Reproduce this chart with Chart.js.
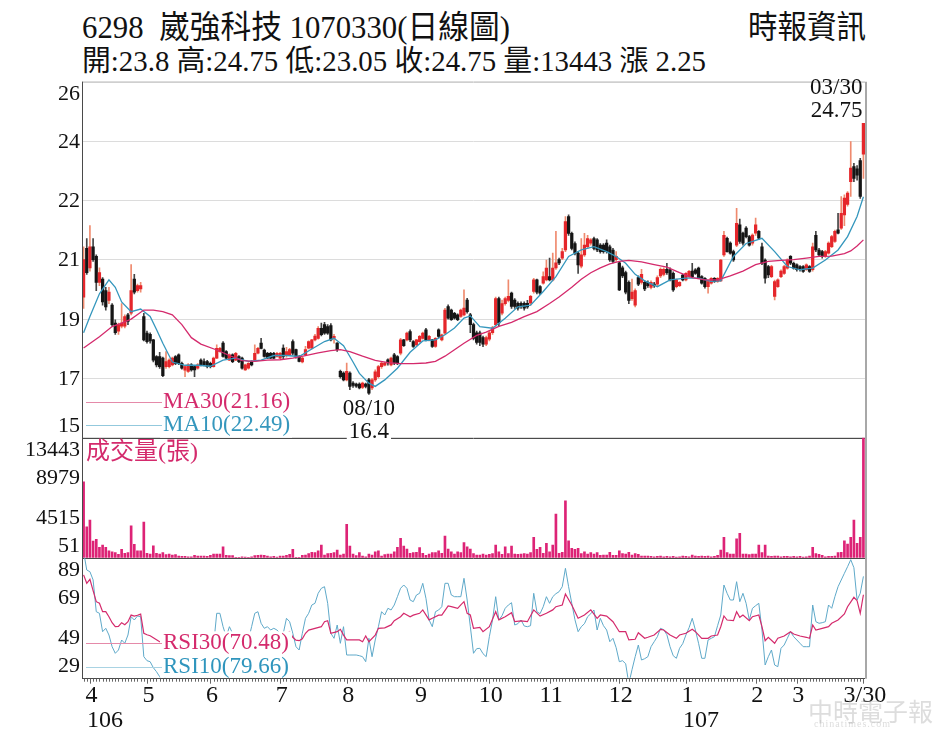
<!DOCTYPE html>
<html lang="zh-Hant">
<head>
<meta charset="UTF-8">
<title>6298 崴強科技 日線圖</title>
<script src="https://cdn.jsdelivr.net/npm/chart.js"></script>
<style>
  body { margin: 0; background: #fff; }
  #wrap {
    position: relative; width: 945px; height: 756px; overflow: hidden; background: #fff;
    font-family: "Liberation Serif", "Noto Sans CJK TC", serif; color: #111;
  }
  .hd { position: absolute; white-space: nowrap; line-height: 1; transform-origin: 0 0; }
  canvas { position: absolute; left: 0; }
  .wm { position: absolute; color: rgba(170,170,170,0.4); white-space: nowrap; }
</style>
</head>
<body>
<div id="wrap">
  <div class="hd" id="t1" style="left:82px; top:11px; font-size:32px;">6298&nbsp; 崴強科技 1070330(日線圖)</div>
  <div class="hd" id="t2" style="left:748px; top:11px; font-size:32px;">時報資訊</div>
  <div class="hd" id="t3" style="left:82px; top:47px; font-size:29px;">開:23.8 高:24.75 低:23.05 收:24.75 量:13443 漲 2.25</div>
  <canvas id="priceChart" width="945" height="390" style="top:60px"></canvas>
  <canvas id="volChart" width="945" height="140" style="top:430px"></canvas>
  <canvas id="rsiChart" width="945" height="206" style="top:550px"></canvas>
  <div class="wm" style="left:808px; top:692px; font-size:25px;">中時電子報</div>
  <div class="wm" style="left:814px; top:718px; font-size:10px; letter-spacing:1px;">chinatimes.com</div>
</div>

<script>
// daily candles, 2017-03-30 .. 2018-03-30 (247 trading days)
const open = [
  19.4, 20.9, 20.3, 20.95, 20.65, 19.85, 19.95, 19.6, 19.3, 19.15,
  18.6, 18.35, 18.5, 18.5, 18.85, 18.9, 19.95, 19.6, 19.65, 18.8,
  18.29, 18.25, 18.08, 17.57, 17.57, 17.52, 17.26, 17.26, 17.31, 17.57,
  17.62, 17.36, 17.15, 17.11, 17.31, 17.26, 17.21, 17.46, 17.41, 17.41,
  17.36, 17.26, 17.52, 17.72, 17.98, 17.72, 17.46, 17.62, 17.46, 17.57,
  17.52, 17.16, 17.21, 17.41, 17.46, 17.67, 17.98, 17.77, 17.67, 17.67,
  17.67, 17.57, 17.52, 17.83, 17.6, 17.62, 18.03, 17.78, 17.57, 17.4,
  17.62, 17.83, 17.83, 18.08, 18.13, 18.44, 18.55, 18.49, 18.52, 18.13,
  17.98, 17.11, 17.06, 16.85, 17.06, 16.75, 16.72, 16.72, 16.62, 16.72,
  16.85, 16.6, 16.85, 16.95, 17.26, 17.3, 17.47, 17.31, 17.62, 17.57,
  17.67, 18.08, 18.08, 18.34, 18.03, 17.93, 18.03, 18.13, 18.39, 18.08,
  18.08, 17.88, 18.39, 18.08, 18.29, 19.11, 19.0, 18.9, 18.85, 18.8,
  18.85, 19.31, 18.85, 18.55, 18.3, 18.3, 18.15, 17.95, 18.1, 18.3,
  18.55, 19.35, 18.9, 19.2, 19.3, 19.52, 19.31, 19.21, 19.21, 19.21,
  19.21, 19.21, 19.57, 19.93, 19.72, 19.83, 19.93, 20.03, 19.93, 20.3,
  20.55, 20.6, 20.85, 21.88, 21.36, 21.05, 20.75, 20.35, 20.7, 20.95,
  21.06, 21.2, 21.16, 21.0, 21.0, 21.06, 20.95, 20.85, 20.55, 20.45,
  20.3, 20.15, 19.85, 19.35, 19.15, 20.0, 19.85, 19.85, 19.85, 19.7,
  19.8, 19.8, 20.05, 20.1, 20.25, 20.24, 20.13, 19.72, 19.75, 20.08,
  19.93, 20.03, 20.2, 20.24, 20.29, 20.03, 19.98, 19.72, 19.83, 19.98,
  19.88, 19.9, 20.7, 21.21, 21.06, 20.8, 21.0, 21.62, 21.37, 21.52,
  21.26, 21.06, 21.37, 21.42, 20.95, 20.54, 20.34, 20.03, 19.42, 19.72,
  20.03, 20.13, 20.29, 20.65, 20.44, 20.39, 20.34, 20.34, 20.24, 20.34,
  20.24, 21.3, 20.85, 20.8, 20.65, 20.75, 20.95, 21.11, 21.47, 21.52,
  21.93, 22.25, 22.95, 23.42, 23.35, 23.6, 23.8
];
const high = [
  20.95, 21.2, 21.6, 21.2, 20.7, 20.3, 20.0, 19.7, 19.7, 19.2,
  18.7, 18.6, 19.2, 18.85, 18.9, 20.4, 20.1, 19.8, 19.85, 18.9,
  18.35, 18.3, 18.1, 17.6, 17.7, 17.55, 17.72, 17.5, 17.55, 17.6,
  17.65, 17.4, 17.3, 17.35, 17.35, 17.3, 17.35, 17.5, 17.5, 17.45,
  17.4, 17.55, 17.93, 17.85, 18.03, 17.75, 17.65, 17.65, 17.7, 17.6,
  17.55, 17.34, 17.38, 17.44, 17.93, 17.85, 18.13, 17.8, 17.7, 17.7,
  17.7, 17.7, 17.7, 17.93, 17.85, 17.82, 18.08, 17.8, 17.6, 17.55,
  17.88, 18.05, 18.1, 18.25, 18.49, 18.6, 18.62, 18.55, 18.58, 18.25,
  18.0, 17.15, 17.1, 17.37, 17.1, 16.8, 16.75, 16.76, 16.78, 16.75,
  16.9, 16.9, 17.16, 17.3, 17.4, 17.4, 17.5, 17.55, 17.67, 17.6,
  18.13, 18.1, 18.32, 18.39, 18.06, 18.1, 18.22, 18.32, 18.44, 18.22,
  18.1, 18.15, 18.42, 18.26, 19.05, 19.16, 19.03, 18.93, 18.88, 19.03,
  19.62, 19.36, 18.9, 18.6, 18.35, 18.35, 18.2, 18.2, 18.35, 18.5,
  19.4, 19.4, 19.31, 19.4, 19.93, 19.55, 19.35, 19.25, 19.25, 19.25,
  19.3, 19.45, 19.98, 19.95, 19.75, 20.18, 20.54, 20.6, 20.75, 21.42,
  20.6, 20.9, 21.88, 21.93, 21.4, 21.1, 20.8, 21.2, 21.36, 21.3,
  21.2, 21.25, 21.2, 21.05, 21.05, 21.16, 21.0, 20.9, 20.8, 20.5,
  20.35, 20.2, 19.9, 19.95, 19.65, 20.05, 20.25, 19.9, 19.9, 19.9,
  19.85, 20.05, 20.3, 20.3, 20.44, 20.3, 20.18, 19.95, 19.88, 20.1,
  20.15, 20.22, 20.44, 20.28, 20.32, 20.06, 20.0, 19.9, 20.0, 20.0,
  20.0, 20.56, 21.42, 21.25, 21.1, 20.85, 22.13, 21.8, 21.4, 21.57,
  21.3, 21.35, 21.83, 21.45, 21.06, 20.58, 20.38, 20.38, 19.92, 19.96,
  20.24, 20.38, 20.58, 20.68, 20.48, 20.42, 20.37, 20.37, 20.42, 20.37,
  21.06, 21.42, 20.9, 20.84, 20.84, 21.1, 21.3, 21.46, 21.98, 22.49,
  22.55, 22.65, 24.19, 23.52, 23.45, 23.67, 24.75
];
const low = [
  19.05, 20.1, 20.2, 20.5, 19.6, 19.75, 19.15, 19.0, 19.2, 18.5,
  18.25, 18.25, 18.45, 18.45, 18.55, 18.85, 19.5, 19.55, 19.55, 18.05,
  17.98, 17.98, 17.4, 17.25, 17.2, 16.95, 17.2, 17.22, 17.28, 17.32,
  17.32, 17.18, 16.95, 17.08, 17.12, 16.95, 17.18, 17.28, 17.28, 17.22,
  17.22, 17.24, 17.5, 17.7, 17.55, 17.5, 17.44, 17.38, 17.44, 17.38,
  17.18, 17.14, 17.18, 17.28, 17.44, 17.65, 17.8, 17.55, 17.5, 17.5,
  17.5, 17.55, 17.5, 17.47, 17.55, 17.6, 17.62, 17.52, 17.4, 17.37,
  17.6, 17.8, 17.8, 18.05, 18.1, 18.2, 18.25, 18.25, 18.05, 17.98,
  17.73, 16.9, 16.82, 16.82, 16.55, 16.62, 16.62, 16.57, 16.58, 16.6,
  16.4, 16.55, 16.8, 16.9, 17.2, 17.28, 17.3, 17.28, 17.32, 17.32,
  17.62, 17.88, 18.05, 18.03, 17.85, 17.9, 18.0, 18.1, 18.05, 18.05,
  17.85, 17.85, 18.15, 18.05, 18.25, 18.72, 18.68, 18.72, 18.67, 18.77,
  18.82, 18.9, 18.3, 18.08, 17.95, 17.9, 17.87, 17.9, 18.05, 18.25,
  18.5, 18.5, 18.85, 19.15, 19.25, 19.05, 19.05, 19.0, 19.05, 19.0,
  19.05, 19.15, 19.52, 19.5, 19.47, 19.8, 19.9, 19.9, 19.9, 20.25,
  20.4, 20.55, 20.8, 21.3, 20.85, 20.7, 20.13, 20.3, 20.65, 20.9,
  21.0, 20.85, 20.8, 20.75, 20.75, 20.75, 20.5, 20.45, 20.5, 19.6,
  20.0, 19.5, 19.2, 19.3, 19.1, 19.75, 19.8, 19.6, 19.7, 19.65,
  19.7, 19.75, 20.0, 20.05, 20.1, 19.9, 19.57, 19.68, 19.72, 19.9,
  19.9, 20.0, 20.0, 20.1, 19.98, 19.8, 19.67, 19.52, 19.8, 19.85,
  19.85, 19.88, 20.65, 20.78, 20.72, 20.5, 20.95, 21.05, 21.0, 21.22,
  20.97, 21.0, 21.3, 21.18, 20.4, 19.83, 20.0, 20.0, 19.31, 19.7,
  20.0, 20.1, 20.26, 20.4, 20.26, 20.2, 20.2, 20.16, 20.22, 20.16,
  20.2, 20.8, 20.66, 20.6, 20.62, 20.72, 20.92, 21.08, 21.34, 21.48,
  21.6, 22.2, 22.5, 22.95, 23.0, 22.44, 23.05
];
const close = [
  20.55, 20.15, 20.95, 20.55, 19.85, 20.15, 19.25, 19.1, 19.55, 18.55,
  18.3, 18.55, 18.6, 18.8, 18.65, 19.6, 19.55, 19.75, 19.75, 18.08,
  18.03, 18.05, 17.46, 17.31, 17.26, 16.98, 17.41, 17.46, 17.52, 17.36,
  17.36, 17.21, 17.26, 17.31, 17.16, 17.16, 17.31, 17.31, 17.31, 17.26,
  17.26, 17.52, 17.82, 17.82, 17.57, 17.52, 17.62, 17.41, 17.67, 17.41,
  17.21, 17.31, 17.36, 17.31, 17.67, 17.82, 17.82, 17.57, 17.52, 17.52,
  17.52, 17.67, 17.67, 17.57, 17.72, 17.78, 17.67, 17.57, 17.42, 17.52,
  17.78, 18.03, 18.08, 18.2, 18.44, 18.24, 18.29, 18.29, 18.08, 18.19,
  17.78, 16.95, 16.85, 17.11, 16.65, 16.68, 16.66, 16.6, 16.75, 16.65,
  16.44, 16.85, 17.1, 17.26, 17.37, 17.37, 17.37, 17.52, 17.37, 17.37,
  18.08, 17.9, 18.29, 18.08, 17.88, 18.08, 18.19, 18.29, 18.08, 18.19,
  17.88, 18.13, 18.19, 18.24, 19.0, 18.75, 18.7, 18.75, 18.7, 19.0,
  19.06, 18.95, 18.55, 18.13, 18.0, 18.0, 17.95, 18.15, 18.3, 18.45,
  19.35, 18.6, 19.2, 19.35, 19.42, 19.11, 19.11, 19.06, 19.11, 19.06,
  19.1, 19.42, 19.93, 19.55, 19.52, 20.03, 20.29, 19.93, 20.29, 20.45,
  20.45, 20.8, 21.72, 21.36, 20.9, 20.75, 20.39, 20.7, 21.0, 21.2,
  21.16, 20.9, 20.85, 20.8, 20.8, 20.8, 20.54, 20.5, 20.65, 19.62,
  20.05, 19.55, 19.3, 19.55, 19.6, 19.8, 20.1, 19.65, 19.75, 19.85,
  19.75, 20.0, 20.25, 20.25, 20.15, 19.93, 19.62, 19.93, 19.85, 19.93,
  20.13, 20.19, 20.03, 20.13, 20.0, 19.83, 19.72, 19.88, 19.98, 19.88,
  19.98, 20.54, 21.3, 20.8, 20.75, 20.54, 21.67, 21.11, 21.06, 21.26,
  21.0, 21.31, 21.62, 21.21, 20.44, 19.98, 20.08, 20.34, 19.88, 19.93,
  20.2, 20.34, 20.54, 20.44, 20.29, 20.24, 20.24, 20.19, 20.39, 20.19,
  20.95, 20.85, 20.7, 20.65, 20.8, 21.06, 21.26, 21.42, 21.37, 21.98,
  22.45, 22.6, 23.37, 23.05, 23.15, 22.5, 24.75
];
// volume, lots (張)
const volume = [
  8500, 3470, 4220, 1870, 2050, 1160, 1420, 1160, 780, 670,
  560, 370, 930, 485, 560, 3580, 1490, 780, 780, 4000,
  490, 410, 1340, 480, 410, 560, 340, 410, 300, 340,
  190, 150, 150, 110, 110, 260, 190, 190, 190, 150,
  260, 410, 410, 410, 1230, 260, 230, 230, 40, 40,
  110, 80, 40, 110, 230, 260, 300, 260, 190, 110,
  150, 80, 190, 190, 260, 370, 930, 40, 40, 260,
  300, 450, 600, 560, 780, 1420, 300, 450, 490, 560,
  860, 300, 410, 3740, 1300, 410, 230, 560, 190, 110,
  410, 300, 670, 780, 190, 340, 410, 410, 670, 1160,
  2160, 1300, 970, 490, 560, 600, 1120, 490, 260, 410,
  560, 560, 780, 490, 2420, 970, 670, 410, 670, 560,
  1680, 1230, 970, 450, 300, 300, 410, 300, 370, 450,
  1420, 670, 370, 1230, 450, 1300, 410, 370, 410, 450,
  410, 560, 2280, 930, 1160, 480, 1600, 670, 1420, 4890,
  480, 600, 6380, 1900, 1040, 930, 1040, 450, 670, 410,
  560, 410, 560, 260, 300, 300, 600, 260, 260, 780,
  450, 410, 600, 300, 450, 370, 190, 190, 190, 150,
  110, 150, 190, 110, 150, 110, 150, 80, 110, 190,
  150, 110, 300, 190, 150, 190, 150, 190, 110, 150,
  260, 860, 2280, 560, 410, 410, 2100, 2730, 410, 410,
  340, 410, 410, 1420, 560, 1420, 190, 150, 190, 190,
  110, 150, 150, 110, 150, 110, 150, 80, 110, 190,
  1160, 450, 370, 260, 110, 150, 150, 190, 560, 600,
  1900, 1530, 2280, 4220, 1600, 2280, 13443
];
// [day index, value]
const ma30 = [[0,17.83],[5,18.18],[9,18.49],[12,18.6],[15,18.72],[19,19.0],[22,19.0],[25,18.95],[28,18.85],[31,18.55],[34,18.15],[37,17.95],[42,17.77],[46,17.6],[50,17.44],[54,17.42],[58,17.46],[62,17.47],[66,17.52],[70,17.6],[74,17.68],[78,17.75],[81,17.78],[84,17.72],[88,17.58],[92,17.45],[96,17.38],[100,17.35],[104,17.35],[108,17.37],[111,17.42],[114,17.58],[117,17.78],[120,17.98],[124,18.22],[127,18.32],[131,18.5],[135,18.62],[139,18.8],[143,18.95],[147,19.2],[150,19.4],[154,19.7],[157,19.95],[160,20.15],[163,20.3],[166,20.42],[169,20.5],[172,20.53],[176,20.48],[180,20.4],[184,20.32],[188,20.15],[192,20.0],[196,19.93],[200,19.93],[204,20.05],[208,20.2],[212,20.4],[216,20.5],[220,20.53],[224,20.55],[228,20.6],[232,20.65],[236,20.66],[240,20.74],[242,20.82],[244,20.97],[246,21.16]];
const ma10 = [[0,18.3],[2,18.8],[5,19.5],[8,19.93],[10,19.7],[12,19.25],[15,18.95],[18,19.03],[21,18.8],[23,18.4],[25,17.98],[28,17.4],[32,17.3],[36,17.3],[40,17.27],[44,17.46],[48,17.52],[52,17.42],[56,17.46],[60,17.6],[64,17.6],[68,17.57],[72,17.8],[76,18.03],[79,18.13],[82,17.9],[85,17.4],[87,17.05],[90,16.75],[92,16.65],[95,16.85],[99,17.21],[103,17.7],[107,18.05],[111,18.08],[114,18.24],[117,18.45],[120,18.75],[122,18.82],[125,18.49],[129,18.44],[133,18.75],[137,19.1],[141,19.15],[145,19.57],[149,20.03],[153,20.65],[157,20.85],[161,20.95],[165,20.8],[168,20.65],[171,20.44],[174,20.1],[177,19.9],[181,19.72],[185,19.93],[190,19.98],[194,19.98],[198,19.88],[201,19.9],[205,20.65],[209,21.05],[214,21.21],[218,20.8],[222,20.34],[226,20.24],[230,20.29],[234,20.54],[238,20.85],[241,21.26],[244,21.88],[246,22.49]];
const rsi30 = [[0,80.4],[1,76.2],[2,78.2],[3,72.5],[4,67],[5,66.2],[6,62],[7,62],[8,59.5],[9,56.5],[10,54.5],[11,54.6],[12,56.5],[13,55.5],[14,57],[15,60.3],[16,59.8],[17,60.2],[18,60.8],[19,51.2],[20,50.5],[21,50],[22,49],[23,48],[24,47],[26,46],[28,46.5],[30,45.5],[32,45],[34,44.5],[36,45],[38,44.5],[40,45],[42,47],[44,48],[46,47],[48,47.5],[50,46],[52,46.5],[54,48],[56,48.5],[58,48],[60,48.5],[62,48],[64,51],[65,52],[66,49.2],[67,47.8],[68,47.5],[69,48.5],[70,51.2],[71,52.8],[73,53.7],[75,54.5],[76,57],[77,57.5],[78,51.2],[80,52],[81,53.2],[82,50.3],[83,47.9],[85,47.9],[87,47.9],[88,47],[89,49.9],[90,47],[92,50.3],[93,53.7],[95,53.9],[97,55.4],[98,57.5],[100,59.5],[101,61.2],[103,59.5],[104,60.3],[106,61.2],[107,62.9],[109,57.9],[110,58.7],[112,60.3],[113,60.3],[115,64.9],[116,64.5],[118,63.7],[119,65.4],[120,67],[121,61.2],[122,60.35],[123,53.7],[125,54.2],[126,52],[128,54.5],[130,62],[131,57.9],[133,59.5],[135,61.5],[136,57],[138,57.4],[140,57],[142,62.9],[144,59.8],[146,61.2],[148,62.9],[149,64.5],[151,65.35],[152,70.85],[154,65.35],[156,58.7],[158,60.35],[160,62.9],[162,58.7],[163,60.35],[165,59.8],[167,57],[169,52],[171,52],[172,47.9],[174,48.2],[175,51.5],[177,48.7],[178,49.2],[180,50.35],[182,53.2],[183,52.85],[185,50.35],[187,48.7],[188,50.35],[190,51.2],[192,53.2],[193,52],[195,48.7],[197,48.7],[198,49.85],[200,50.35],[201,54.5],[202,59.85],[203,57.85],[205,57.5],[206,62],[207,59.2],[208,60.35],[210,57.5],[211,59.5],[213,60.35],[214,54.5],[215,47.5],[216,49.2],[218,46.2],[219,48.7],[221,49.85],[223,52],[224,50.85],[226,49.85],[228,49.2],[229,48.7],[230,55.35],[231,52.85],[233,53.7],[235,54.5],[236,56.2],[238,57.85],[240,60.85],[241,64.5],[243,69.2],[244,67.5],[245,61.2],[246,70.48]];
const rsi10 = [[0,92],[1,82.85],[2,82],[3,77.9],[4,62],[5,61.2],[6,52],[7,53.7],[8,50.35],[9,44.5],[10,41.2],[11,42.85],[12,47.85],[13,46.2],[14,50.35],[15,59.5],[16,57.85],[17,59.85],[18,59.5],[19,39.5],[20,37.5],[21,37],[22,34],[23,32],[24,29.5],[25,27],[27,33],[29,38],[31,35],[33,33],[35,36],[37,40],[39,37],[41,45],[42,61.2],[43,61.2],[44,54.5],[45,49.5],[46,54.5],[47,51.2],[48,49.5],[49,50.35],[50,48.7],[52,47.85],[53,54.5],[54,61.2],[55,62],[56,56.2],[57,53.7],[58,54.5],[59,52.85],[60,53.7],[61,52.85],[62,51.2],[63,51.2],[64,58.7],[65,57],[66,51.2],[67,44.5],[68,42.85],[69,51.2],[70,58.7],[71,61.2],[72,65.35],[73,66.2],[74,71.2],[75,73.7],[76,74.5],[77,66.2],[78,51.2],[79,48.7],[80,55.35],[81,46.2],[82,54.5],[83,40.35],[84,40.35],[85,40.35],[86,40.35],[87,40],[88,39.5],[89,37],[90,48.7],[91,39.5],[92,47.85],[93,54.5],[94,62],[95,60.35],[96,63.7],[97,62.85],[98,65.35],[99,69.5],[100,73.7],[101,75.35],[102,73.7],[103,67.85],[104,67],[105,70.35],[106,71.2],[107,76.2],[108,68.7],[109,57.85],[110,54.5],[111,62],[112,62.85],[113,64.5],[114,76.2],[115,76.2],[116,70.35],[117,69.5],[118,69.5],[119,69.5],[120,78.7],[121,67.85],[122,54.5],[123,41.2],[124,43.5],[125,43.7],[126,41],[127,39.5],[128,49.5],[129,57.85],[130,69.5],[131,57.85],[132,60],[133,63.7],[134,65.35],[135,66.5],[136,55.35],[137,56],[138,57.85],[139,54.85],[140,54.5],[141,55],[142,71.2],[143,62],[144,61],[145,64.5],[146,69.5],[147,66.2],[148,69.5],[149,71],[150,72],[151,74.5],[152,83.7],[153,74.5],[154,66.2],[155,58],[156,52],[157,54.5],[158,56],[159,59.5],[160,61],[161,62.85],[162,52.85],[163,58.7],[164,55],[165,52.85],[166,47],[167,48.7],[168,44],[169,37],[170,37.5],[171,36],[172,26],[173,33],[174,39.5],[175,45.35],[176,37.85],[177,38.5],[178,39.5],[179,44.5],[180,47],[181,49.5],[182,53.7],[183,53],[184,50.5],[185,44.5],[186,40],[187,38.7],[188,43.7],[189,46],[190,50.35],[191,54],[192,58.7],[193,52.85],[194,46.2],[195,38.7],[196,38.7],[197,47.85],[198,48.7],[199,49.5],[200,55],[201,60.35],[202,75.35],[203,71.2],[204,67.85],[205,67.85],[206,77],[207,67],[208,71.2],[209,66.2],[210,57.85],[211,63.7],[212,65],[213,66.2],[214,52.85],[215,35.35],[216,39.5],[217,42.85],[218,35.35],[219,34.5],[220,43.7],[221,45.35],[222,48.7],[223,52],[224,49.5],[225,47.85],[226,46.2],[227,44.5],[228,44.5],[229,44.5],[230,65.35],[231,57],[232,56.2],[233,56.5],[234,57],[235,65.35],[236,63.7],[237,69.5],[238,74.5],[239,77.85],[240,81.2],[241,84.5],[242,88],[243,84],[244,67.85],[245,71.2],[246,79.66]];

// axes
const priceMin = 15.07, priceMax = 26.03;
const priceTickLabels = ['15', '17', '19', '21', '22', '24', '26'];
const volMax = 13443;
const volTicks = [51, 4515, 8979, 13443];
const rsiMin = 29, rsiMax = 89;
const rsiTicks = [29, 49, 69, 89];
const monthIdx = [2, 20, 40, 62, 83, 106, 128, 147, 169, 190, 212, 225, 246];
const monthLabels = ['4', '5', '6', '7', '8', '9', '10', '11', '12', '1', '2', '3', '3/30'];
const yearIdx = [2, 190];
const yearLabels = ['106', '107'];

const N = close.length;
const days = Array.from({ length: N }, (_, i) => i);
const serif = '"Liberation Serif", "Noto Sans CJK TC", serif';
const RED = '#e5262b', RED_WICK = '#ef8a6e', BLACK = '#151515', BLACK_WICK = '#444';
const PINK = '#d42a6c', BLUE = '#3597bd';
const xAxis = { type: 'linear', min: -0.5, max: N - 0.5, offset: false, display: false };
const pts = arr => arr.map(p => ({ x: p[0], y: p[1] }));
const isUp = i => close[i] >= open[i];

function drawFrame(chart, withTop) {
  const { ctx, chartArea: a } = chart;
  const L = Math.round(a.left) + 0.5, B = Math.round(a.bottom) + 0.5;
  ctx.save();
  ctx.lineWidth = 1;
  if (withTop) {
    ctx.strokeStyle = '#cfcfcf';
    ctx.beginPath(); ctx.moveTo(a.left, Math.round(a.top) + 0.5); ctx.lineTo(a.right, Math.round(a.top) + 0.5); ctx.stroke();
  }
  ctx.strokeStyle = '#4a4a4a';
  ctx.beginPath();
  ctx.moveTo(L, a.top); ctx.lineTo(L, a.bottom + 1);
  ctx.moveTo(a.left, B); ctx.lineTo(a.right, B);
  ctx.stroke();
  ctx.strokeStyle = '#a8a8a8'; ctx.lineWidth = 2;
  ctx.beginPath(); ctx.moveTo(Math.round(a.right) + 1, a.top); ctx.lineTo(Math.round(a.right) + 1, a.bottom + 1); ctx.stroke();
  ctx.restore();
}

function drawYLabels(chart, values, labels) {
  const { ctx, chartArea: a, scales: { y } } = chart;
  ctx.save();
  ctx.font = '22px ' + serif;
  ctx.fillStyle = '#111';
  ctx.textAlign = 'right';
  ctx.textBaseline = 'middle';
  values.forEach((v, k) => {
    let py = y.getPixelForValue(v) + 1;
    py = Math.min(Math.max(py, a.top + 13), a.bottom - 11.5);
    ctx.fillText(labels[k], a.left - 2, py);
  });
  ctx.restore();
}

function drawLegend(chart, rows) {
  const { ctx, chartArea: a } = chart;
  ctx.save();
  ctx.fillStyle = '#fff';
  ctx.fillRect(a.left + 78, rows[0].y - 12, 132, a.bottom - rows[0].y + 12);
  ctx.font = '23px ' + serif;
  ctx.textBaseline = 'middle';
  ctx.textAlign = 'left';
  rows.forEach(r => {
    ctx.strokeStyle = r.line; ctx.lineWidth = 1;
    ctx.beginPath(); ctx.moveTo(a.left + 4, Math.round(r.y) + 0.5); ctx.lineTo(a.left + 80, Math.round(r.y) + 0.5); ctx.stroke();
    ctx.fillStyle = r.color;
    ctx.fillText(r.text, a.left + 81, r.y);
  });
  ctx.restore();
}

const pricePlugin = {
  id: 'priceDecor',
  afterDatasetsDraw(chart) {
    const { ctx, chartArea: a, scales: { x, y } } = chart;
    drawLegend(chart, [
      { y: a.bottom - 36, line: '#e58aa9', color: PINK, text: 'MA30(21.16)' },
      { y: a.bottom - 12.7, line: '#93c9dd', color: BLUE, text: 'MA10(22.49)' }
    ]);
    drawFrame(chart, true);
    const step = (priceMax - priceMin) / (priceTickLabels.length - 1);
    drawYLabels(chart, priceTickLabels.map((_, k) => priceMin + k * step), priceTickLabels);
    ctx.save();
    ctx.font = '23px ' + serif;
    ctx.fillStyle = '#111';
    ctx.textBaseline = 'middle';
    // last day high
    const hx = x.getPixelForValue(N - 1), hy = y.getPixelForValue(high[N - 1]);
    ctx.textAlign = 'right';
    ctx.fillText('03/30', hx - 1, hy - 35);
    ctx.fillText(high[N - 1].toFixed(2), hx - 1, hy - 12);
    // lowest low
    let li = 0;
    low.forEach((v, i) => { if (v < low[li]) li = i; });
    const lx = x.getPixelForValue(li), ly = y.getPixelForValue(low[li]);
    ctx.textAlign = 'center';
    ctx.fillText('08/10', lx, ly + 14);
    const t = String(low[li]);
    const w = ctx.measureText(t).width;
    ctx.fillStyle = '#fff';
    ctx.fillRect(lx - w / 2 - 2, ly + 27, w + 4, 18);
    ctx.fillStyle = '#111';
    ctx.fillText(t, lx, ly + 37);
    ctx.restore();
  }
};

new Chart(document.getElementById('priceChart'), {
  type: 'bar',
  data: {
    datasets: [
      { type: 'line', data: pts(ma30), borderColor: PINK, borderWidth: 1.3, pointRadius: 0, order: 0 },
      { type: 'line', data: pts(ma10), borderColor: BLUE, borderWidth: 1.3, pointRadius: 0, order: 0 },
      {
        data: days.map(i => ({ x: i, y: [low[i], high[i]] })),
        backgroundColor: c => isUp(c.dataIndex) ? RED_WICK : BLACK_WICK,
        barThickness: 1, grouped: false, order: 3
      },
      {
        data: days.map(i => ({ x: i, y: [open[i], close[i]] })),
        backgroundColor: c => isUp(c.dataIndex) ? RED : BLACK,
        barThickness: 2.6, minBarLength: 1, grouped: false, order: 2
      }
    ]
  },
  options: {
    responsive: false, animation: false,
    layout: { padding: { left: 0, right: 80, top: 21.7, bottom: 12.3 } },
    plugins: { legend: { display: false }, tooltip: { enabled: false } },
    scales: {
      x: xAxis,
      y: {
        min: priceMin, max: priceMax,
        afterBuildTicks: s => {
          const step = (priceMax - priceMin) / (priceTickLabels.length - 1);
          s.ticks = priceTickLabels.map((_, k) => ({ value: priceMin + k * step }));
        },
        afterFit: s => { s.width = 82; },
        ticks: { display: false },
        grid: { color: '#dcdcdc', drawTicks: false },
        border: { display: false }
      }
    }
  },
  plugins: [pricePlugin]
});

new Chart(document.getElementById('volChart'), {
  type: 'bar',
  data: {
    datasets: [{
      data: days.map(i => ({ x: i, y: volume[i] })),
      backgroundColor: '#dd2376', barThickness: 2, grouped: false
    }]
  },
  options: {
    responsive: false, animation: false,
    layout: { padding: { left: 0, right: 80, top: 7.7, bottom: 12.3 } },
    plugins: { legend: { display: false }, tooltip: { enabled: false } },
    scales: {
      x: xAxis,
      y: {
        min: 0, max: volMax,
        afterFit: s => { s.width = 82; },
        ticks: { display: false }, grid: { display: false }, border: { display: false }
      }
    }
  },
  plugins: [{
    id: 'volDecor',
    afterDatasetsDraw(chart) {
      const { ctx, chartArea: a } = chart;
      drawFrame(chart, false);
      drawYLabels(chart, volTicks.slice().reverse(), volTicks.slice().reverse().map(String));
      ctx.save();
      ctx.font = '24px ' + serif;
      ctx.fillStyle = PINK;
      ctx.textAlign = 'left';
      ctx.textBaseline = 'middle';
      ctx.fillText('成交量(張)', a.left + 4, a.top + 15);
      ctx.restore();
    }
  }]
});

new Chart(document.getElementById('rsiChart'), {
  type: 'line',
  data: {
    datasets: [
      { data: pts(rsi30), borderColor: PINK, borderWidth: 1.2, pointRadius: 0 },
      { data: pts(rsi10), borderColor: '#5fa9c9', borderWidth: 1, pointRadius: 0 }
    ]
  },
  options: {
    responsive: false, animation: false,
    layout: { padding: { left: 0, right: 80, top: 7.7, bottom: 78.3 } },
    plugins: { legend: { display: false }, tooltip: { enabled: false } },
    scales: {
      x: xAxis,
      y: {
        min: rsiMin, max: rsiMax,
        afterFit: s => { s.width = 82; },
        ticks: { display: false }, grid: { display: false }, border: { display: false }
      }
    }
  },
  plugins: [{
    id: 'rsiDecor',
    afterDatasetsDraw(chart) {
      const { ctx, chartArea: a, scales: { x } } = chart;
      drawLegend(chart, [
        { y: a.bottom - 34.4, line: '#e58aa9', color: PINK, text: 'RSI30(70.48)' },
        { y: a.bottom - 11, line: '#a9d3e3', color: '#2f95bd', text: 'RSI10(79.66)' }
      ]);
      drawFrame(chart, false);
      drawYLabels(chart, rsiTicks, rsiTicks.map(String));
      ctx.save();
      ctx.strokeStyle = '#666'; ctx.lineWidth = 1;
      ctx.beginPath();
      days.forEach(i => {
        const px = Math.round(x.getPixelForValue(i)) + 0.5;
        ctx.moveTo(px, a.bottom + 1); ctx.lineTo(px, a.bottom + (monthIdx.includes(i) ? 6 : 4));
      });
      ctx.stroke();
      ctx.font = '24px ' + serif;
      ctx.fillStyle = '#111';
      ctx.textBaseline = 'middle';
      ctx.textAlign = 'center';
      monthIdx.forEach((d, k) => ctx.fillText(monthLabels[k], x.getPixelForValue(d) + 1.5, a.bottom + 18.5));
      ctx.textAlign = 'left';
      yearIdx.forEach((d, k) => ctx.fillText(yearLabels[k], x.getPixelForValue(d) - 3, a.bottom + 43.5));
      ctx.restore();
    }
  }]
});

// squeeze header lines to the widths they take in the original
[['t1', 428], ['t2', 118], ['t3', 624]].forEach(([id, w]) => {
  const el = document.getElementById(id);
  el.style.transform = 'scaleX(' + (w / el.getBoundingClientRect().width) + ')';
});
</script>
</body>
</html>
